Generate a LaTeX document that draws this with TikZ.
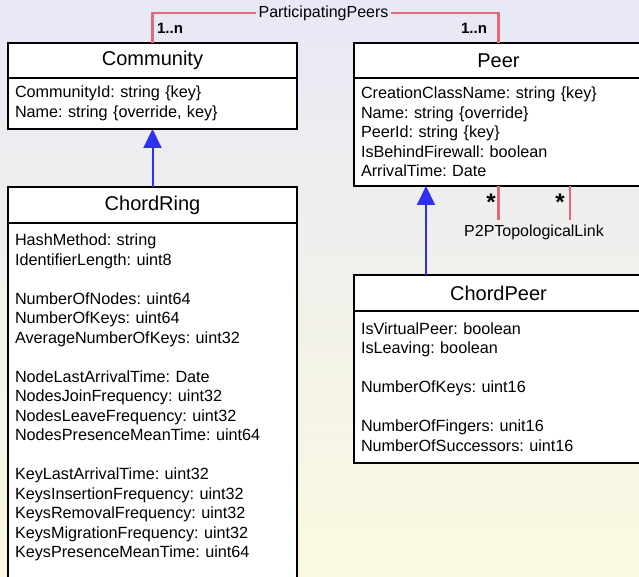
\documentclass[tikz,border=0pt]{standalone}
\usepackage{fontspec}
\setmainfont{Liberation Sans}
\usetikzlibrary{positioning,arrows.meta}
\frenchspacing

\definecolor{linkred}{RGB}{226,106,118}
\definecolor{inhblue}{RGB}{48,48,245}
\definecolor{bgtop}{RGB}{232,232,246}
\definecolor{bgbottom}{RGB}{251,249,224}

\begin{document}
\begin{tikzpicture}
	[x=1pt,y=1pt,
		classtitle/.style={draw,line width=2.2pt,fill=white,outer sep=0pt,inner sep=0pt,
			minimum width=289pt,minimum height=35pt,font=\fontsize{20}{24}\selectfont},
		classbody/.style={draw,line width=2.2pt,fill=white,outer sep=0pt,inner xsep=7pt,inner ysep=0pt,
			text width=275pt,align=left,font=\fontsize{16.2}{19.5}\selectfont},
		assoc/.style={draw=linkred,line width=2.5pt},
		inherit/.style={draw=inhblue,line width=2pt,-{Triangle[length=19pt,width=18pt,fill=inhblue]}},
		mult/.style={font=\bfseries\fontsize{15}{18}\selectfont,inner sep=0pt},
		multstar/.style={font=\bfseries\fontsize{24}{26}\selectfont,inner sep=0pt},
		linklabel/.style={font=\fontsize{16}{19}\selectfont,inner sep=2pt}]

	% background
	\fill[top color=bgtop,bottom color=bgbottom] (0,0) rectangle (639,-577);
	\useasboundingbox (0,0) rectangle (639,-577);
	\clip (0,0) rectangle (639,-577);

	% classes
	\node[classtitle] (community) at (152.5,-60.5) {Community};
	\node[classbody,minimum height=51pt,below=0pt of community] (communityattr)
		{CommunityId: string \{key\}\\Name: string \{override, key\}};

	\node[classtitle] (peer) at (498.5,-60.5) {Peer};
	\node[classbody,minimum height=108pt,below=0pt of peer] (peerattr)
		{CreationClassName: string \{key\}\\Name: string \{override\}\\PeerId: string \{key\}\\
		IsBehindFirewall: boolean\\ArrivalTime: Date};

	\node[classtitle,minimum height=36pt] (chordring) at (152.5,-205) {ChordRing};
	\node[classbody,inner ysep=11pt,below=0pt of chordring] (chordringattr)
		{HashMethod: string\\IdentifierLength: uint8\\[19.5pt]
		NumberOfNodes: uint64\\NumberOfKeys: uint64\\AverageNumberOfKeys: uint32\\[19.5pt]
		NodeLastArrivalTime: Date\\NodesJoinFrequency: uint32\\NodesLeaveFrequency: uint32\\
		NodesPresenceMeanTime: uint64\\[19.5pt]
		KeyLastArrivalTime: uint32\\KeysInsertionFrequency: uint32\\KeysRemovalFrequency: uint32\\
		KeysMigrationFrequency: uint32\\KeysPresenceMeanTime: uint64\\ \mbox{}};

	\node[classtitle,minimum height=36pt] (chordpeer) at (498.5,-293) {ChordPeer};
	\node[classbody,minimum height=152pt,below=0pt of chordpeer] (chordpeerattr)
		{IsVirtualPeer: boolean\\IsLeaving: boolean\\[19.5pt]
		NumberOfKeys: uint16\\[19.5pt]
		NumberOfFingers: unit16\\NumberOfSuccessors: uint16};

	% associations
	\node[linklabel] (participating) at (323.5,-13) {ParticipatingPeers};
	\node[mult] (multcommunity) at (170,-28) {1..n};
	\node[mult] (multpeer) at (474,-28) {1..n};
	\draw[assoc] (community.north) |- (participating.west);
	\draw[assoc] (participating.east) -| (peer.north);

	\node[linklabel] (p2plink) at (534,-232) {P2PTopologicalLink};
	\coordinate (linkend1) at (498.5,-220);
	\coordinate (linkend2) at (570,-220);
	\draw[assoc] (peerattr.south) -- (linkend1);
	\draw[assoc] (peerattr.south -| linkend2) -- (linkend2);
	\node[multstar] (starone) at (491,-202) {*};
	\node[multstar] (startwo) at (560,-202) {*};

	% inheritance
	\draw[inherit] (chordring.north) -- (communityattr.south);
	\draw[inherit] ([xshift=-72.5pt]chordpeer.north) -- ([xshift=-72.5pt]peerattr.south);

\end{tikzpicture}
\end{document}
